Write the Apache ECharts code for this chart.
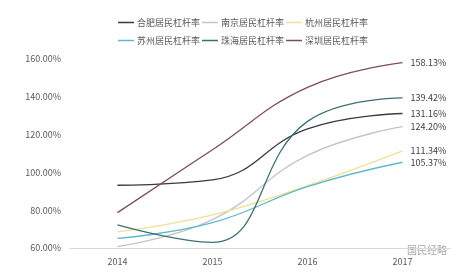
<!DOCTYPE html>
<html><head><meta charset="utf-8">
<script src="https://cdn.jsdelivr.net/npm/echarts@6/dist/echarts.min.js"></script>
<style>html,body{margin:0;padding:0;background:#fff}#c{width:473px;height:280px}</style>
</head><body><div id="c"></div>
<script>
const years = ['2014', '2015', '2016', '2017'];
const yTicks = [60, 80, 100, 120, 140, 160];
const hefei = [93.2, 96, 123, 131.16];
const nanjing = [60.8, 75, 109, 124.20];
const hangzhou = [68.5, 77.5, 93, 111.34];
const suzhou = [65.1, 73.4, 92.5, 105.37];
const zhuhai = [72.2, 63, 127, 139.42];
const shenzhen = [78.7, 112, 145, 158.13];

const names = ['合肥居民杠杆率','南京居民杠杆率','杭州居民杠杆率','苏州居民杠杆率','珠海居民杠杆率','深圳居民杠杆率'];
const datas = [hefei, nanjing, hangzhou, suzhou, zhuhai, shenzhen];
const colors = ['#3a3a3a','#c4c4c4','#eee196','#5fb8cb','#3e6f70','#7d4e58'];
const FONT = '"Noto Sans CJK SC", "Open Sans", sans-serif';

const chart = echarts.init(document.getElementById('c'), null, {renderer:'canvas'});
const legendCommon = {
  icon: 'rect', itemWidth: 16, itemHeight: 1.5, itemGap: 2, padding: 0,
  textStyle: {fontSize: 9, color: '#595959', fontFamily: FONT, padding:[0,0,0,-2]},
  left: 118
};
chart.setOption({
  animation: false,
  color: colors,
  legend: [
    Object.assign({}, legendCommon, {top: 18, data: names.slice(0,3)}),
    Object.assign({}, legendCommon, {top: 36, data: names.slice(3)})
  ],
  grid: {left: 70, right: 23, top: 59, bottom: 32},
  xAxis: {
    type: 'category', data: years, boundaryGap: true,
    axisLine: {lineStyle: {color: '#d9d9d9', width: 1}},
    axisTick: {show: false},
    axisLabel: {color: '#595959', fontSize: 9, fontFamily: FONT, margin: 9}
  },
  yAxis: {
    type: 'value', min: yTicks[0], max: yTicks[yTicks.length-1], interval: 20,
    axisLine: {show: false}, axisTick: {show: false}, splitLine: {show: false},
    axisLabel: {color: '#595959', fontSize: 9, fontFamily: FONT, margin: 9,
      formatter: v => v.toFixed(2) + '%'}
  },
  graphic: [{
    type: 'text', right: 26, top: 245,
    style: {text: '国民经略', fill: '#a8a8a8', font: '10px ' + FONT}
  }],
  series: names.map((n, i) => ({
    name: n, type: 'line', data: datas[i], smooth: 0.45,
    showSymbol: false, symbol: 'none',
    lineStyle: {width: 1.3, color: colors[i]},
    endLabel: {show: true, distance: 8, color: '#404040', fontSize: 9, fontFamily: FONT,
      formatter: p => p.value.toFixed(2) + '%'}
  }))
});
</script></body></html>
